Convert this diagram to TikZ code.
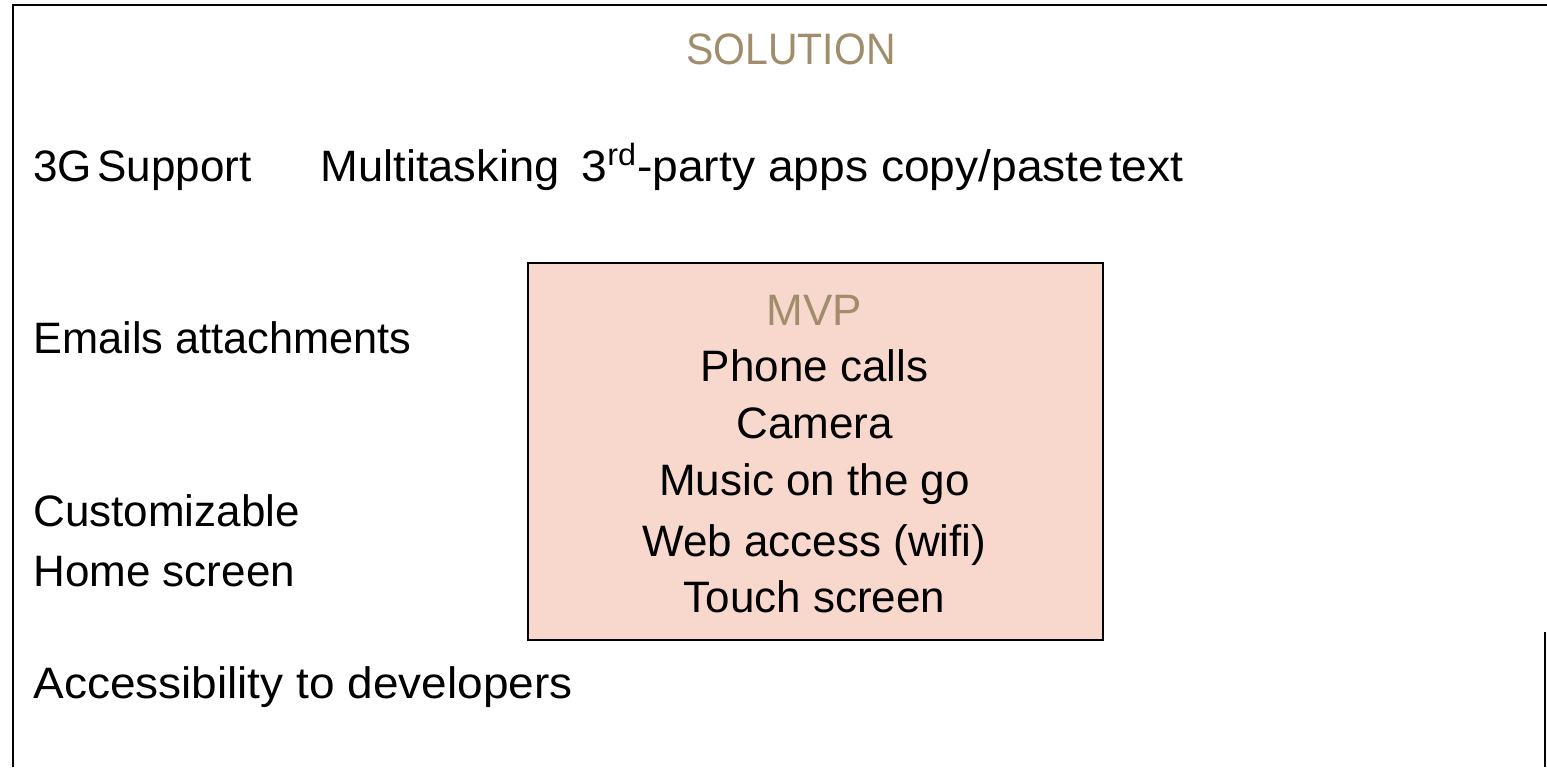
\documentclass[tikz,border=0pt]{standalone}
\usepackage{fontspec}
\setmainfont{Liberation Sans}
\definecolor{tan}{HTML}{A18D6B}
\definecolor{mvpfill}{HTML}{F8D8CC}
\begin{document}
\begin{tikzpicture}[x=0.5pt,y=-0.5pt,
  txt/.style={anchor=base west,inner sep=0pt,font=\fontsize{22}{26}\selectfont},
  ctr/.style={anchor=base,inner sep=0pt,font=\fontsize{22}{26}\selectfont},
  frameline/.style={line width=1.3pt,black}]
\useasboundingbox (0,0) rectangle (1547,767);

% outer frame
\coordinate (ftl) at (13,5);
\coordinate (ftr) at (1547,5);
\coordinate (fbl) at (13,767);
\coordinate (frt) at (1545,632);
\coordinate (frb) at (1545,767);
\draw[frameline] (fbl) -- (ftl) -- (ftr);
\draw[frameline] (frt) -- (frb);

% heading
\node[ctr,text=tan] (sol) at (791,64) {\scalebox{0.93}[1]{SOLUTION}};

% first row of features
\node[txt] (g3) at (33,181) {3G\hspace{0.12em}Support};
\node[txt] (multi) at (320,181) {\scalebox{1.03}[1]{Multitasking}};
\node[txt,anchor=base east] (apps) at (1184,181) {\scalebox{1.05}[1]{3\textsuperscript{rd}-party apps copy/paste\hspace{0.1em}text}};

% left column
\node[txt] (mail) at (33,353) {\scalebox{0.985}[1]{Emails attachments}};
\node[txt] (cust) at (33,526) {Customizable};
\node[txt] (home) at (33,586) {Home screen};
\node[txt] (acc) at (33,698) {\scalebox{1.045}[1]{Accessibility to developers}};

% minimum viable product box
\node[draw=black,line width=0.8pt,fill=mvpfill,anchor=north west,inner sep=0pt,
      minimum width=287.5pt,minimum height=188.5pt] (mvp) at (527,262) {};
\node[ctr,text=tan] (mvpt) at (814.5,325) {MVP};
\node[ctr] (m1) at (814.5,381.5) {Phone calls};
\node[ctr] (m2) at (814.5,438) {Camera};
\node[ctr] (m3) at (814.5,495) {Music on the go};
\node[ctr] (m4) at (814.5,556) {Web access (wifi)};
\node[ctr] (m5) at (814.5,612) {Touch screen};
\end{tikzpicture}
\end{document}
